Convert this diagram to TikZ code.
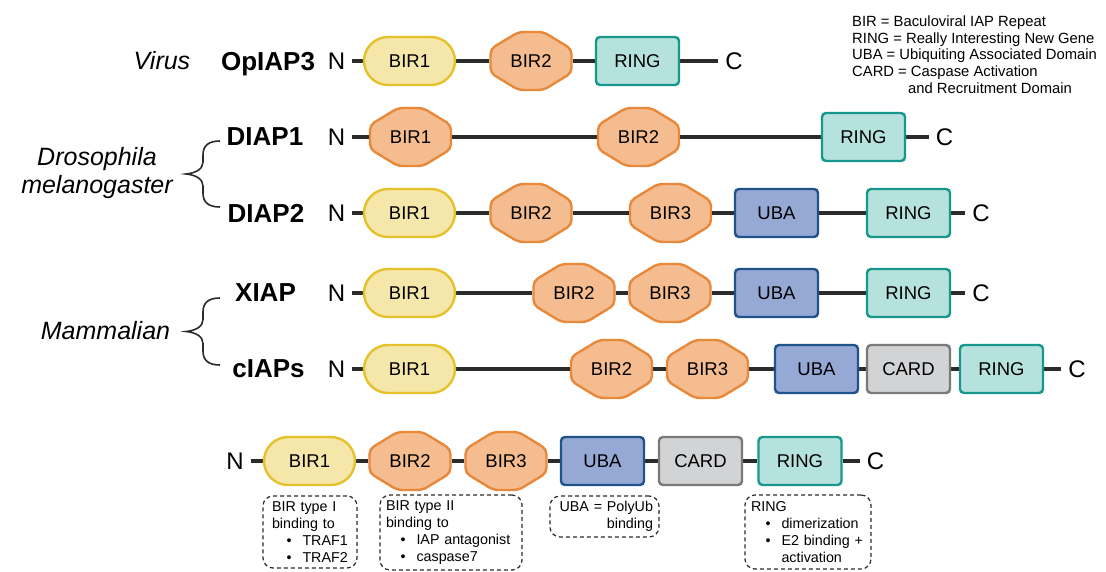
\documentclass[tikz,border=0pt]{standalone}
\usepackage{fontspec}
\setmainfont{Liberation Sans}
\usepackage{tikz}
\usetikzlibrary{positioning,backgrounds}
\definecolor{pillfill}{HTML}{F5E6A9}
\definecolor{pillline}{HTML}{E5C22B}
\definecolor{hexfill}{HTML}{F5BD8F}
\definecolor{hexline}{HTML}{E8883A}
\definecolor{ringfill}{HTML}{B6E2DD}
\definecolor{ringline}{HTML}{18988C}
\definecolor{ubafill}{HTML}{95A9D4}
\definecolor{ubaline}{HTML}{1F538C}
\definecolor{cardfill}{HTML}{D1D3D5}
\definecolor{cardline}{HTML}{7A7A7A}
\definecolor{ink}{HTML}{2B2B2B}
\newcommand{\domfont}{\fontsize{18.5}{20}\selectfont}
\newcommand{\notefont}{\fontsize{14.3}{17.2}\selectfont}
\newcommand{\itm}{\hspace*{14.5pt}\textbullet\hspace{11pt}}
\newcommand{\itx}{\hspace*{14.5pt}\phantom{\textbullet}\hspace{11pt}}

\begin{document}
\begin{tikzpicture}[x=1pt,y=-1pt]
 \tikzset{
  dom/.style={line width=2.4pt, inner sep=0pt, font=\domfont},
  pill/.style={dom, draw=pillline, fill=pillfill, rounded corners=24pt, minimum width=91pt, minimum height=48pt},
  hexa/.style={dom, minimum width=81pt, minimum height=58pt},
  hexshape/.style={draw=hexline, fill=hexfill, line width=2.4pt, rounded corners=5pt},
  boxd/.style={dom, rounded corners=4pt, minimum width=83pt, minimum height=48pt},
  ring/.style={boxd, draw=ringline, fill=ringfill},
  uba/.style={boxd, draw=ubaline, fill=ubafill},
  card/.style={boxd, draw=cardline, fill=cardfill},
  term/.style={font=\fontsize{24}{24}\selectfont, inner sep=7pt},
  prot/.style={font=\fontsize{26}{26}\selectfont\bfseries, text depth=0pt},
  group/.style={font=\fontsize{25}{28.5}\selectfont\itshape, align=center},
  backbone/.style={draw=ink, line width=4.5pt},
  brace/.style={draw=ink, line width=1.6pt},
  note/.style={draw=ink, line width=1.2pt, dash pattern=on 4pt off 3pt, rounded corners=10pt, inner xsep=6pt, inner ysep=0pt, font=\notefont}
 }
 \useasboundingbox (0,0) rectangle (1106,572);

 % species and groups
 \node[group] (G1) at (162,61) {Virus};
 \node[group] (G2) at (97,173) {Drosophila\\melanogaster};
 \node[group] (G3) at (105.5,331) {Mammalian};
 \node[prot] (P1) at (268,61) {OpIAP3};
 \node[prot] (P2) at (265,137) {DIAP1};
 \node[prot] (P3) at (266,213) {DIAP2};
 \node[prot] (P4) at (265.5,293) {XIAP};
 \node[prot] (P5) at (268.5,369) {cIAPs};

 \coordinate (T2) at (220,141); \coordinate (U2) at (220,207);
 \coordinate (T3) at (220,298); \coordinate (U3) at (220,365);
 \draw[brace] (T2) .. controls (208,141) and (203,146) .. (203,155) -- (203,162) .. controls (203,169) and (196,173) .. (186,174) .. controls (196,175) and (203,179) .. (203,186) -- (203,193) .. controls (203,202) and (208,207) .. (U2);
 \draw[brace] (T3) .. controls (208,298) and (203,303) .. (203,312) -- (203,319.5) .. controls (203,326.5) and (196,330.5) .. (186,331.5) .. controls (196,332.5) and (203,336.5) .. (203,343.5) -- (203,351) .. controls (203,360) and (208,365) .. (U3);

 % OpIAP3
 \node[term] (N1) at (336.5,61) {N};
 \node[pill] (D11) at (409.5,61) {BIR1};
 \node[hexa] (D12) at (531,61) {BIR2};
 \node[ring] (D13) at (637.5,61) {RING};
 \node[term] (C1) at (734,61) {C};

 % DIAP1
 \node[term] (N2) at (336.5,137) {N};
 \node[hexa] (D21) at (410.5,137) {BIR1};
 \node[hexa] (D22) at (638.5,137) {BIR2};
 \node[ring] (D23) at (863.5,137) {RING};
 \node[term] (C2) at (944.5,137) {C};

 % DIAP2
 \node[term] (N3) at (336.5,213) {N};
 \node[pill] (D31) at (409.5,213) {BIR1};
 \node[hexa] (D32) at (531,213) {BIR2};
 \node[hexa] (D33) at (670.5,213) {BIR3};
 \node[uba] (D34) at (776.5,213) {UBA};
 \node[ring] (D35) at (908.5,213) {RING};
 \node[term] (C3) at (981,213) {C};

 % XIAP
 \node[term] (N4) at (336.5,293) {N};
 \node[pill] (D41) at (409.5,293) {BIR1};
 \node[hexa] (D42) at (574,293) {BIR2};
 \node[hexa] (D43) at (670,293) {BIR3};
 \node[uba] (D44) at (776.5,293) {UBA};
 \node[ring] (D45) at (908.5,293) {RING};
 \node[term] (C4) at (981,293) {C};

 % cIAPs
 \node[term] (N5) at (336.5,369) {N};
 \node[pill] (D51) at (409.5,369) {BIR1};
 \node[hexa] (D52) at (611.5,369) {BIR2};
 \node[hexa] (D53) at (707.5,369) {BIR3};
 \node[uba] (D54) at (816.5,369) {UBA};
 \node[card] (D55) at (908.5,369) {CARD};
 \node[ring] (D56) at (1001.5,369) {RING};
 \node[term] (C5) at (1077,369) {C};

 % general IAP
 \node[term] (N6) at (235,461) {N};
 \node[pill] (D61) at (309.5,461) {BIR1};
 \node[hexa] (D62) at (410,461) {BIR2};
 \node[hexa] (D63) at (506,461) {BIR3};
 \node[uba] (D64) at (602.5,461) {UBA};
 \node[card] (D65) at (700.5,461) {CARD};
 \node[ring] (D66) at (800,461) {RING};
 \node[term] (C6) at (875.5,461) {C};

 \begin{scope}[on background layer]
  \foreach \h in {D12,D21,D22,D32,D33,D42,D43,D52,D53,D62,D63}
   \draw[hexshape] (\h.center) ++(-40.5,-12) -- ++(0,24) -- ++(28,17) -- ++(25,0) -- ++(28,-17) -- ++(0,-24) -- ++(-28,-17) -- ++(-25,0) -- cycle;
  \draw[backbone] (N1) -- (D11) -- (D12) -- (D13) -- (C1);
  \draw[backbone] (N2) -- (D21) -- (D22) -- (D23) -- (C2);
  \draw[backbone] (N3) -- (D31) -- (D32) -- (D33) -- (D34) -- (D35) -- (C3);
  \draw[backbone] (N4) -- (D41) -- (D42) -- (D43) -- (D44) -- (D45) -- (C4);
  \draw[backbone] (N5) -- (D51) -- (D52) -- (D53) -- (D54) -- (D55) -- (D56) -- (C5);
  \draw[backbone] (N6) -- (D61) -- (D62) -- (D63) -- (D64) -- (D65) -- (D66) -- (C6);
 \end{scope}

 % notes
 \node[note, inner xsep=9pt, minimum width=94pt, minimum height=72pt, text width=76pt, align=left] (E1) at (310,532) {BIR type I\\binding to\\\itm TRAF1\\\itm TRAF2};
 \node[note, minimum width=142pt, minimum height=75pt, text width=130pt, align=left] (E2) at (451,532.5) {BIR type II\\binding to\\\itm IAP antagonist\\\itm caspase7};
 \node[note, minimum width=109pt, minimum height=41pt, text width=97pt, align=right] (E3) at (604.5,516.5) {UBA = PolyUb\\binding};
 \node[note, minimum width=126pt, minimum height=74pt, text width=114pt, align=left] (E4) at (808,532) {RING\\\itm dimerization\\\itm E2 binding +\\\itx activation};

 \node[anchor=north west, inner sep=0pt, font=\fontsize{14.8}{16.7}\selectfont, align=left] (L) at (852,15.6) {BIR = Baculoviral IAP Repeat\\RING = Really Interesting New Gene\\UBA = Ubiquiting Associated Domain\\CARD = Caspase Activation\\\hspace*{56pt}and Recruitment Domain};
\end{tikzpicture}
\end{document}
